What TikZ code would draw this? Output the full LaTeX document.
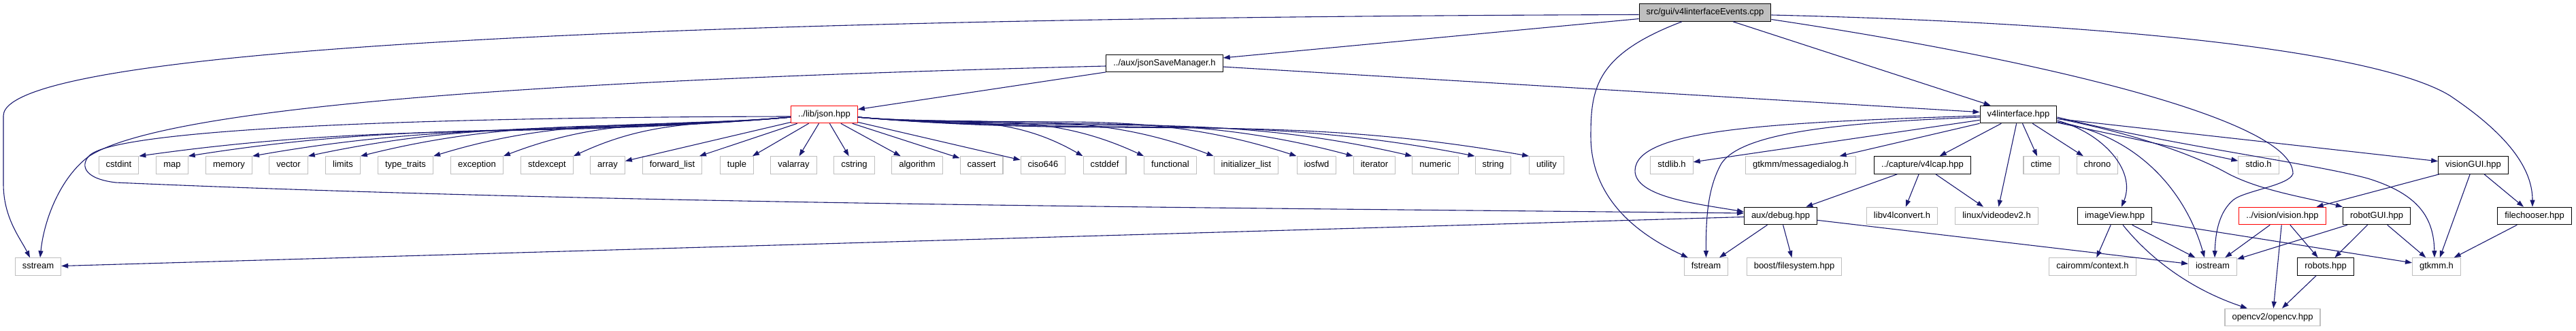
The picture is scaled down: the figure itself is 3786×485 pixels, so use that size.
\documentclass[tikz,border=0pt]{standalone}
\usepackage{fontspec}
\setmainfont{Liberation Sans}
\usepackage{xcolor}
\usepackage{tikz}
\usetikzlibrary{arrows.meta}

\definecolor{incl}{HTML}{191970}
\definecolor{grayline}{HTML}{BFBFBF}

\begin{document}
\begin{tikzpicture}[x=1pt, y=-1pt, font=\fontsize{13}{15}\selectfont,
  >={Triangle[length=10pt,width=7pt]},
  box/.style={draw, line width=1.1pt, minimum height=25.5pt, inner xsep=10.5pt,
    inner ysep=0pt, text height=9.4pt, text depth=2.6pt},
  sys/.style={box, draw=grayline},
  doc/.style={box, draw=black},
  trunc/.style={box, draw=red},
  root/.style={box, draw=black, fill=grayline},
  inc/.style={->, draw=incl, line width=1.1pt}]
  \useasboundingbox (0,0) rectangle (3786,485);

  \node[root] (top) at (2506,18.5) {src/gui/v4linterfaceEvents.cpp};
  \node[doc] (jsm) at (1711.5,93) {../aux/jsonSaveManager.h};
  \node[trunc] (json) at (1211.5,168) {../lib/json.hpp};
  \node[doc] (v4i) at (2966.5,168) {v4linterface.hpp};

  \foreach \n/\t/\x in {cstdint/cstdint/174.5, map/map/253, memory/memory/336.5,
      vector/vector/424, limits/limits/504, typetraits/type\_traits/596,
      exception/exception/701, stdexcept/stdexcept/804, array/array/893,
      fwdlist/forward\_list/988, tuple/tuple/1083, valarray/valarray/1166.5,
      cstring/cstring/1255.5, algorithm/algorithm/1348, cassert/cassert/1442.5,
      ciso/ciso646/1533, cstddef/cstddef/1623.5, functional/functional/1720,
      initlist/initializer\_list/1831.5, iosfwd/iosfwd/1935, iterator/iterator/2020,
      numeric/numeric/2109.5, string/string/2194.5, utility/utility/2273,
      stdlib/stdlib.h/2457, ctime/ctime/3000, chrono/chrono/3082.5, stdio/stdio.h/3319.5}
    \node[sys] (\n) at (\x,242.5) {\t};
  \node[sys] (msgdlg) at (2646.5,242.5) {gtkmm/messagedialog.h};
  \node[doc] (v4lcap) at (2825.5,242.5) {../capture/v4lcap.hpp};
  \node[doc] (visiongui) at (3635,242.5) {visionGUI.hpp};

  \node[doc] (debug) at (2617,317) {aux/debug.hpp};
  \node[sys] (libv4l) at (2795.5,317) {libv4lconvert.h};
  \node[sys] (videodev) at (2934.5,317) {linux/videodev2.h};
  \node[doc] (imageview) at (3108,317) {imageView.hpp};
  \node[trunc] (vision) at (3354.5,317) {../vision/vision.hpp};
  \node[doc] (robotgui) at (3493,317) {robotGUI.hpp};
  \node[doc] (filechooser) at (3725,317) {filechooser.hpp};

  \node[sys] (sstream) at (56,391.5) {sstream};
  \node[sys] (fstream) at (2507.5,391.5) {fstream};
  \node[sys] (boostfs) at (2637,391.5) {boost/filesystem.hpp};
  \node[sys] (cairomm) at (3075.5,391.5) {cairomm/context.h};
  \node[sys] (iostream) at (3252,391.5) {iostream};
  \node[doc] (robots) at (3418,391.5) {robots.hpp};
  \node[sys] (gtkmm) at (3581,391.5) {gtkmm.h};
  \node[sys] (opencv) at (3340,466) {opencv2/opencv.hpp};

  \draw[inc] ([yshift=-3pt]top.west) .. controls (1200,25) and (5,60) .. (5,170)
    -- (5,270) .. controls (5,320) and (30,350) .. ([xshift=-12pt]sstream.north);
  \draw[inc] (top) -- (jsm);
  \draw[inc] ([xshift=-34pt]top.south) .. controls (2345,80) and (2338,130) .. (2338,200)
    .. controls (2338,300) and (2420,350) .. ([xshift=6pt]fstream.north west);
  \draw[inc] (top) -- (v4i);
  \draw[inc] ([yshift=-10pt]top.east) .. controls (2950,80) and (3370,170) .. (3370,255)
    .. controls (3365,272) and (3300,280) .. (3283,293)
    .. controls (3262,310) and (3256,340) .. ([xshift=3pt]iostream.north);
  \draw[inc] ([yshift=-3.5pt]top.east) .. controls (3150,35) and (3500,80) .. (3600,140)
    .. controls (3690,200) and (3722,250) .. ([xshift=-3pt]filechooser.north);

  \draw[inc] (jsm) -- (json);
  \draw[inc] (jsm) -- (v4i);
  \draw[inc] ([yshift=-4pt]jsm.west) .. controls (900,115) and (250,150) .. (130,230)
    .. controls (90,260) and (65,320) .. ([xshift=3pt]sstream.north);

  \foreach \n/\a in {cstdint/8, map/9, memory/10, vector/12, limits/14,
      typetraits/17, exception/21, stdexcept/25}
    \draw[inc] ([yshift=-4pt]json.west) to[out=185, in=\a] (\n.north east);
  \foreach \n in {array, fwdlist, tuple, valarray, cstring, algorithm, cassert, ciso}
    \draw[inc] (json) -- (\n);
  \foreach \n/\a in {cstddef/150, functional/155, initlist/159, iosfwd/162,
      iterator/165, numeric/167, string/169, utility/170}
    \draw[inc] ([yshift=-4pt]json.east) to[out=-5, in=\a] (\n.north west);
  \draw[inc] ([yshift=-3pt]json.west) .. controls (600,172) and (180,190) .. (133,227)
    .. controls (118,240) and (120,262) .. (170,268)
    .. controls (900,300) and (1800,305) .. ([yshift=4pt]debug.west);

  \draw[inc] ([yshift=-2pt]v4i.west) .. controls (2600,180) and (2405,190) .. (2403,250)
    .. controls (2402,290) and (2500,300) .. ([yshift=6pt]debug.west);
  \draw[inc] (v4i) -- (stdlib);
  \draw[inc] (v4i) -- (msgdlg);
  \draw[inc] (v4i) -- (v4lcap);
  \draw[inc] (v4i) -- (videodev);
  \draw[inc] (v4i) -- (ctime);
  \draw[inc] (v4i) -- (chrono);
  \draw[inc] ([yshift=-9pt]v4i.east) .. controls (3090,195) and (3140,250)
    .. ([xshift=10pt]imageview.north);
  \draw[inc] ([yshift=-11pt]v4i.east) .. controls (3150,200) and (3215,290)
    .. ([xshift=-12pt]iostream.north);
  \draw[inc] (v4i) -- (stdio);
  \draw[inc] ([yshift=-6pt]v4i.east) .. controls (3130,195) and (3220,225) .. (3271,253)
    .. controls (3320,280) and (3390,290) .. (robotgui.north west);
  \draw[inc] ([yshift=-4pt]v4i.east) .. controls (3200,215) and (3400,240) .. (3480,262)
    .. controls (3555,285) and (3577,320) .. ([xshift=-3pt]gtkmm.north);
  \draw[inc] (v4i) -- (visiongui);
  \draw[inc] ([yshift=-4pt]v4i.west) .. controls (2700,180) and (2560,195) .. (2530,240)
    .. controls (2510,275) and (2507,320) .. (fstream.north);

  \draw[inc] (v4lcap) -- (debug);
  \draw[inc] (v4lcap) -- (libv4l);
  \draw[inc] (v4lcap) -- (videodev);

  \draw[inc] (debug) -- (sstream);
  \draw[inc] (debug) -- (fstream);
  \draw[inc] (debug) -- (boostfs);
  \draw[inc] (debug) -- (iostream);

  \draw[inc] (imageview) -- (cairomm);
  \draw[inc] (imageview) -- (iostream);
  \draw[inc] ([xshift=12pt]imageview.south) .. controls (3160,380) and (3220,425)
    .. ([xshift=-37pt]opencv.north);
  \draw[inc] (imageview) -- (gtkmm);

  \draw[inc] (vision) -- (iostream);
  \draw[inc] (vision) -- (robots);
  \draw[inc] (vision) -- (opencv);
  \draw[inc] (robotgui) -- (iostream);
  \draw[inc] (robotgui) -- (robots);
  \draw[inc] (robotgui) -- (gtkmm);
  \draw[inc] (visiongui) -- (vision);
  \draw[inc] (visiongui) -- (gtkmm);
  \draw[inc] (visiongui) -- (filechooser);
  \draw[inc] (filechooser) -- (gtkmm);
  \draw[inc] (robots) -- (opencv);
\end{tikzpicture}
\end{document}
